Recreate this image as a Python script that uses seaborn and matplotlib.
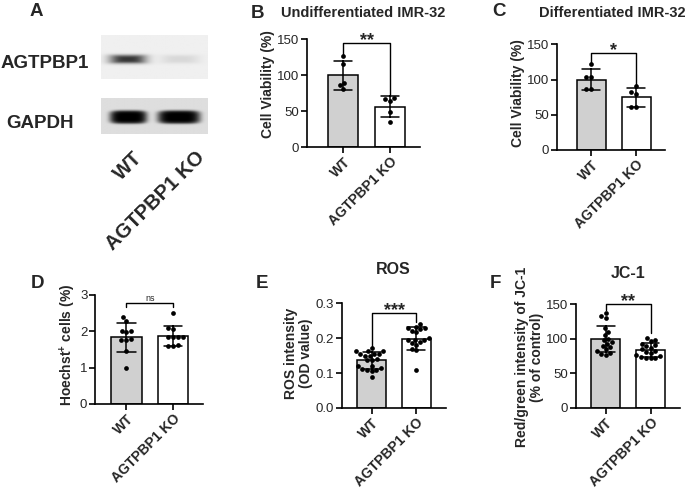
import numpy as np
import pandas as pd
import matplotlib
matplotlib.use("Agg")
import matplotlib.pyplot as plt
import seaborn as sns

# ---------------- data ----------------
groups = ["WT", "AGTPBP1 KO"]

b_wt = [126, 115, 89, 86, 81]
b_ko = [68, 66, 64, 48, 35]

c_wt = [122, 103, 103, 86, 86]
c_ko = [91, 82, 80, 61, 61]

d_wt = [2.38, 2.28, 2.00, 1.97, 1.99, 1.75, 1.78, 1.75, 1.45, 1.00]
d_ko = [2.49, 2.08, 2.05, 1.85, 1.85, 1.84, 1.83, 1.60, 1.58, 1.62]

e_wt = [0.171, 0.163, 0.163, 0.163, 0.156, 0.156, 0.156, 0.150, 0.150, 0.140,
        0.138, 0.138, 0.120, 0.120, 0.115, 0.113, 0.110, 0.108, 0.105, 0.090]
e_ko = [0.241, 0.232, 0.230, 0.228, 0.226, 0.222, 0.218, 0.200, 0.196, 0.195,
        0.195, 0.190, 0.185, 0.180, 0.170, 0.165, 0.110]

f_wt = [137, 133, 130, 115, 110, 105, 100, 98, 95, 93, 90, 88, 85, 82, 80, 78, 76]
f_ko = [101, 99, 97, 93, 91, 89, 87, 85, 83, 81, 79, 77, 75, 74, 73, 72, 72]

blot_proteins = ["AGTPBP1", "GAPDH"]
blot_intensity = [[0.78, 0.10], [1.0, 1.0]]   # band darkness per lane (WT, KO)

# ---------------- style ----------------
sns.set_style("ticks")
plt.rcParams["font.family"] = ["Liberation Sans", "DejaVu Sans"]
plt.rcParams["mathtext.fontset"] = "custom"
plt.rcParams["mathtext.bf"] = "Liberation Sans:bold"
plt.rcParams["mathtext.rm"] = "Liberation Sans"

W, H = 685, 491
fig = plt.figure(figsize=(W / 100, H / 100), dpi=100)
fig.patch.set_facecolor("white")


def rect(x0, x1, ytop, ybot):
    return [x0 / W, 1 - ybot / H, (x1 - x0) / W, (ybot - ytop) / H]


def fx(x):
    return x / W


def fy(y):
    return 1 - y / H


# ---------------- panel A: western blot ----------------
def blot(ax, inten, bg, centers, hws, cy, hh, power):
    h, w = 60, 160
    yy, xx = np.mgrid[0:h, 0:w]
    yy = yy / (h - 1)
    xx = xx / (w - 1)
    img = np.full((h, w), bg, dtype=float)
    for lane, (val, cx, hw) in enumerate(zip(inten, centers, hws)):
        r = (np.abs((xx - cx) / hw) ** 4 + np.abs((yy - cy) / hh) ** 4) ** 0.25
        prof = np.exp(-r ** power)
        img = img - val * bg * prof
    ax.imshow(img, cmap="gray", vmin=0, vmax=1, aspect="auto",
              interpolation="bilinear")
    ax.set_axis_off()


ax_b1 = fig.add_axes(rect(101, 208, 35, 79))
blot(ax_b1, blot_intensity[0], 0.94, [0.25, 0.74], [0.17, 0.18], 0.55, 0.10, 3)
ax_b2 = fig.add_axes(rect(101, 208, 98, 134))
blot(ax_b2, blot_intensity[1], 0.87, [0.255, 0.73], [0.175, 0.2], 0.53, 0.19, 6)

fig.text(fx(45), fy(63), blot_proteins[0], ha="center", va="center",
         fontsize=13.5, fontweight="bold")
fig.text(fx(40), fy(123), blot_proteins[1], ha="center", va="center",
         fontsize=13.5, fontweight="bold")
for gx, g in zip([133, 195], groups):
    fig.text(fx(gx), fy(148), g, ha="right", va="top", rotation=45,
             rotation_mode="anchor", fontsize=14.5, fontweight="bold")

# ---------------- bar panels ----------------
panels = [
    dict(wt=b_wt, ko=b_ko, r=(307, 420, 39, 147), ylim=150,
         yticks=[0, 50, 100, 150], ylabel="Cell Viability (%)",
         br=(128, 144, 72), star="**", xl=(-0.77, 1.64), fmt="{:g}",
         laby=84),
    dict(wt=c_wt, ko=c_ko, r=(557, 665, 44.3, 150), ylim=150,
         yticks=[0, 50, 100, 150], ylabel="Cell Viability (%)",
         br=(125, 137, 92), star="*", xl=(-0.76, 1.64), fmt="{:g}",
         laby=93),
    dict(wt=d_wt, ko=d_ko, r=(95, 203, 294.7, 404), ylim=3,
         yticks=[0, 1, 2, 3], ylabel=r"Hoechst$^{\mathbf{+}}$ cells (%)",
         br=(2.67, 2.78, 2.67), star="ns", xl=(-0.67, 1.64), fmt="{:g}",
         laby=345),
    dict(wt=e_wt, ko=e_ko, r=(341.7, 446, 303.3, 408), ylim=0.3,
         yticks=[0, 0.1, 0.2, 0.3], ylabel="ROS intensity\n(OD value)",
         br=(0.178, 0.271, 0.247), star="***", xl=(-0.68, 1.67), fmt="{:.1f}",
         laby=353),
    dict(wt=f_wt, ko=f_ko, r=(576, 680, 304.3, 408), ylim=150,
         yticks=[0, 50, 100, 150],
         ylabel="Red/green intensity of JC-1\n(% of control)",
         br=(142, 151, 108), star="**", xl=(-0.67, 1.66), fmt="{:g}",
         laby=357),
]

for p in panels:
    ax = fig.add_axes(rect(*p["r"]))
    df = pd.DataFrame({
        "group": [groups[0]] * len(p["wt"]) + [groups[1]] * len(p["ko"]),
        "value": list(p["wt"]) + list(p["ko"]),
    })
    sns.barplot(data=df, x="group", y="value", hue="group", order=groups,
                hue_order=groups, palette=["#d0d0d0", "#ffffff"],
                errorbar="sd", capsize=0.4, width=0.65,
                err_kws={"color": "black", "linewidth": 1.1},
                edgecolor="black", linewidth=1.1, legend=False, ax=ax)
    sns.swarmplot(data=df, x="group", y="value", order=groups, color="black",
                  size=3.4, ax=ax)
    ax.set_ylim(0, p["ylim"])
    ax.set_xlim(*p["xl"])
    ax.set_yticks(p["yticks"])
    ax.set_yticklabels([p["fmt"].format(t) for t in p["yticks"]], fontsize=9.5)
    ax.set_xlabel("")
    ax.set_ylabel(p["ylabel"], fontsize=10, fontweight="bold",
                  linespacing=1.1, labelpad=1.5)
    x0, x1, yt, yb = p["r"]
    ax.yaxis.label.set_y((yb - p["laby"]) / (yb - yt))
    ax.set_xticks([0, 1])
    ax.set_xticklabels(groups, rotation=45, ha="right",
                       rotation_mode="anchor", fontsize=10,
                       fontweight="bold")
    for s in ["top", "right"]:
        ax.spines[s].set_visible(False)
    for s in ["left", "bottom"]:
        ax.spines[s].set_linewidth(1.2)
        ax.spines[s].set_color("black")
    ax.tick_params(axis="both", length=4, width=1.2, color="black",
                   pad=1.5)
    l, h, r = p["br"]
    ax.plot([0, 0, 1, 1], [l, h, h, r], color="black", lw=1, clip_on=False)
    if p["star"] == "ns":
        ax.text(0.5, h + 0.05 * p["ylim"] / 3, "ns", ha="center",
                va="baseline", fontsize=6.5)
    else:
        ax.text(0.5, h - 0.02 * p["ylim"], p["star"], ha="center",
                va="baseline", fontsize=13, fontweight="bold")

# ---------------- titles & letters ----------------
for letter, (x, y) in zip("ABCDEF", [(36, 12), (258, 13), (499, 12),
                                      (37, 284), (262, 283), (495, 283)]):
    fig.text(fx(x), fy(y), letter, ha="center", va="center", fontsize=13.5,
             fontweight="bold")

fig.text(fx(363), fy(13), "Undifferentiated IMR-32", ha="center",
         va="center", fontsize=10.5, fontweight="bold")
fig.text(fx(612), fy(13), "Differentiated IMR-32", ha="center",
         va="center", fontsize=10.5, fontweight="bold")
fig.text(fx(393), fy(270), "ROS", ha="center", va="center", fontsize=11.5,
         fontweight="bold")
fig.text(fx(628), fy(273), "JC-1", ha="center", va="center", fontsize=11.5,
         fontweight="bold")

fig.savefig("out.png", dpi=100, facecolor="white")
